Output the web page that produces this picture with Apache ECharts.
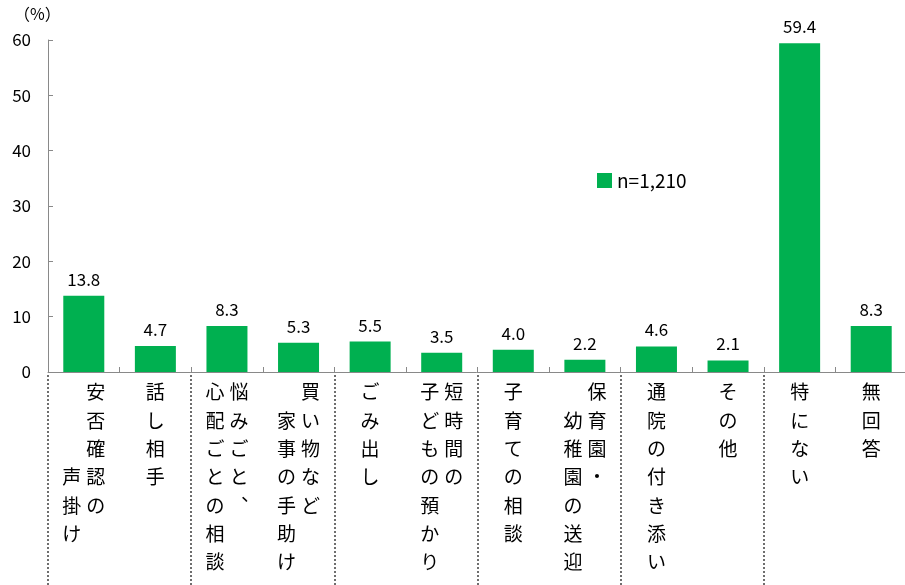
<!DOCTYPE html>
<html>
<head>
<meta charset="utf-8">
<script src="https://cdn.jsdelivr.net/npm/echarts@6/dist/echarts.min.js"></script>
<style>
  html, body { margin: 0; padding: 0; background: #fff; }
  #chart { width: 905px; height: 585px; }
</style>
</head>
<body>
<div id="chart"></div>
<script>
// 縦書きラベル: '\n' で列を区切る（右の列から順に）。全角スペースは行送り用
const categories = [
  '安否確認の\n　　　声掛け',
  '話し相手',
  '悩みごと、\n心配ごとの相談',
  '買い物など\n　家事の手助け',
  'ごみ出し',
  '短時間の\n子どもの預かり',
  '子育ての相談',
  '保育園・\n　幼稚園の送迎',
  '通院の付き添い',
  'その他',
  '特にない',
  '無回答'
];
const values = [13.8, 4.7, 8.3, 5.3, 5.5, 3.5, 4.0, 2.2, 4.6, 2.1, 59.4, 8.3];
const seriesName = 'n=1,210';
const yTicks = [0, 10, 20, 30, 40, 50, 60];

const JP = '"Noto Sans CJK JP", sans-serif';

function verticalLabel(text) {
  const cols = text.split('\n').map(c => Array.from(c.replace('、', '︑')));
  const rows = Math.max(...cols.map(c => c.length));
  const lines = [];
  for (let r = 0; r < rows; r++) {
    let line = '';
    for (let c = cols.length - 1; c >= 0; c--) {
      line += '{c|' + (cols[c][r] || '　') + '}';
    }
    lines.push(line);
  }
  return lines.join('\n');
}

const chart = echarts.init(document.getElementById('chart'));

const option = {
  animation: false,
  textStyle: { fontFamily: JP },
  grid: {
    left: 48,
    top: 40,
    width: 859,
    height: 332,
    containLabel: false,
    outerBoundsMode: 'none'
  },
  legend: {
    left: 592,
    top: 166,
    icon: 'rect',
    itemWidth: 15,
    itemHeight: 15,
    itemGap: 6,
    textStyle: { fontSize: 19, color: '#000', fontFamily: JP },
    data: [seriesName]
  },
  graphic: [{
    type: 'text',
    left: 14,
    top: 6,
    style: { text: '（%）', fontSize: 16, fill: '#000', fontFamily: JP }
  }],
  xAxis: [{
    type: 'category',
    data: categories,
    axisLine: { lineStyle: { color: '#898989', width: 1 } },
    axisTick: { show: true, inside: true, length: 5, lineStyle: { color: '#898989' } },
    axisLabel: {
      interval: 0,
      margin: 6,
      formatter: verticalLabel,
      rich: {
        c: {
          width: 24,
          align: 'center',
          fontSize: 19,
          lineHeight: 28.3,
          color: '#000',
          fontFamily: JP
        }
      }
    }
  }, {
    type: 'category',
    data: categories,
    position: 'bottom',
    offset: 3,
    axisLine: { show: false },
    axisTick: {
      show: true,
      inside: false,
      length: 215,
      lineStyle: { color: '#6e6e6e', width: 2, type: 'dotted' }
    },
    axisLabel: { show: false }
  }],
  yAxis: {
    type: 'value',
    min: yTicks[0],
    max: yTicks[yTicks.length - 1],
    interval: 10,
    axisLine: { show: true, lineStyle: { color: '#898989', width: 1 } },
    axisTick: { show: true, inside: true, length: 5, lineStyle: { color: '#898989' } },
    splitLine: { show: false },
    axisLabel: { fontSize: 17, color: '#000', margin: 17, fontFamily: JP }
  },
  series: [{
    name: seriesName,
    type: 'bar',
    xAxisIndex: 0,
    data: values,
    barWidth: 41,
    itemStyle: { color: '#00B050' },
    label: {
      show: true,
      position: 'top',
      distance: 8,
      fontSize: 17,
      color: '#000',
      fontFamily: JP,
      formatter: p => p.value.toFixed(1)
    }
  }]
};

chart.setOption(option);
</script>
</body>
</html>
